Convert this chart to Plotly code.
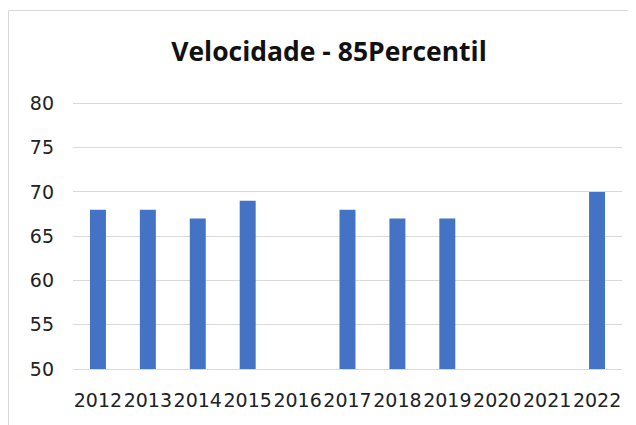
import plotly.graph_objects as go

years = ["2012", "2013", "2014", "2015", "2016", "2017", "2018", "2019", "2020", "2021", "2022"]
values = [68, 68, 67, 69, 50, 68, 67, 67, None, None, 70]
title_text = "Velocidade - 85Percentil"
y_ticks = [50, 55, 60, 65, 70, 75, 80]

# page body has an 8px margin, so the figure origin sits at (8, 8) on screen
W, H = 636, 425
ml, mr, mt, mb = 65, 22, 91, 64
pw, ph = W - ml - mr, H - mt - mb

fig = go.Figure()
fig.add_trace(go.Bar(
    x=years, y=values,
    marker=dict(color="#4472C4", line=dict(width=0)),
    hoverinfo="x+y",
))

# chart border (light grey frame like Excel chart area)
x0 = (0.5 - ml) / pw
x1 = (W + 5 - ml) / pw
y1 = (H - mb - 2.5) / ph
y0 = -(mb + 20) / ph
fig.add_shape(type="rect", xref="paper", yref="paper", x0=x0, x1=x1, y0=y0, y1=y1,
              line=dict(color="#d9d9d9", width=1), fillcolor="rgba(0,0,0,0)", layer="below")

fig.update_layout(
    width=W, height=H,
    margin=dict(l=ml, r=mr, t=mt, b=mb, pad=0),
    paper_bgcolor="white", plot_bgcolor="white",
    bargap=0.68,
    showlegend=False,
    title=dict(text="<b>" + title_text + "</b>", x=321 / W, xanchor="center", xref="container",
               y=1 - 44 / H, yanchor="middle",
               font=dict(family="Open Sans, sans-serif", size=26.5, color="#111")),
    font=dict(family="DejaVu Sans, sans-serif", size=19, color="#222"),
    xaxis=dict(type="category", showgrid=False, showline=True, linecolor="#d9d9d9", linewidth=1,
               ticks="", tickangle=0, ticklabelstandoff=14, fixedrange=True),
    yaxis=dict(range=[50, 80.5], tickvals=y_ticks, showgrid=True, gridcolor="#d9d9d9", gridwidth=1,
               zeroline=False, showline=False, ticks="", ticklabelstandoff=18, fixedrange=True),
)

fig.write_html("out.html")
